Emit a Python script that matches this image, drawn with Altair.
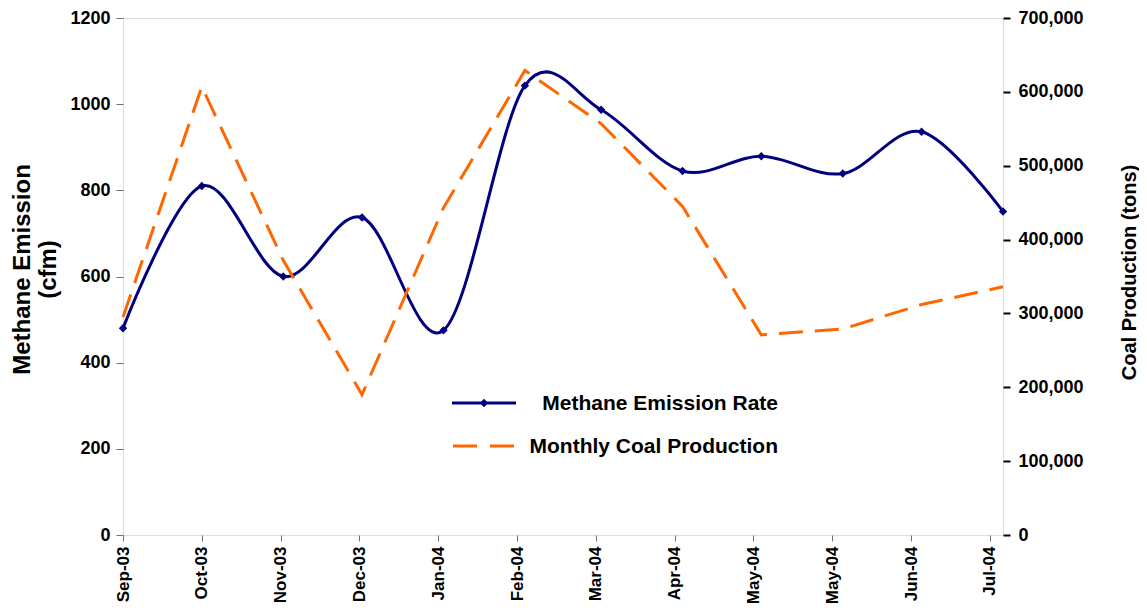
import altair as alt
import pandas as pd

# ---- data ----
months = ["2003-09-01", "2003-10-01", "2003-11-01", "2003-12-01", "2004-01-01", "2004-02-01",
          "2004-03-01", "2004-04-01", "2004-05-01", "2004-06-01", "2004-07-01", "2004-08-01"]
methane = [480, 810, 600, 737, 475, 1043, 987, 845, 879, 839, 936, 751]
coal = [295000, 607000, 372000, 190000, 443000, 629000, 557000, 445000, 271000, 279000, 312000, 336000]
tick_labels = ["Sep-03", "Oct-03", "Nov-03", "Dec-03", "Jan-04", "Feb-04",
               "Mar-04", "Apr-04", "May-04", "May-04", "Jun-04", "Jul-04"]
legend_labels = ["Methane Emission Rate", "Monthly Coal Production"]

start = pd.Timestamp(months[0])
days = [(pd.Timestamp(m) - start).days for m in months]
df = pd.DataFrame({"day": days, "methane": methane, "coal": coal})

FONT = "Liberation Sans"
NAVY = "#000080"
ORANGE = "#FF6600"
H = 517

label_js = "[" + ",".join("'" + t + "'" for t in tick_labels) + "]"
x_enc = alt.X(
    "day:Q",
    scale=alt.Scale(domain=[0, days[-1]], nice=False, zero=False),
    axis=alt.Axis(
        values=[30 * i for i in range(len(tick_labels))],
        labelExpr=label_js + "[round(datum.value/30)]",
        labelAngle=270,
        labelFontSize=17,
        labelFontWeight="bold",
        labelFont=FONT,
        labelColor="black",
        labelPadding=5,
        tickSize=6,
        tickColor="#707070",
        tickWidth=1,
        domain=False,
        grid=False,
        title=None,
    ),
)

base = alt.Chart(df)

methane_line = base.mark_line(
    color=NAVY, strokeWidth=3, interpolate="cardinal", tension=0
).encode(
    x=x_enc,
    y=alt.Y(
        "methane:Q",
        scale=alt.Scale(domain=[0, 1200], nice=False),
        axis=alt.Axis(
            orient="left",
            values=[0, 200, 400, 600, 800, 1000, 1200],
            format="d",
            labelFontSize=18,
            labelFontWeight="bold",
            labelFont=FONT,
            labelColor="black",
            labelPadding=6,
            tickSize=7,
            tickColor="#707070",
            domain=False,
            grid=False,
            title=["Methane Emission", "(cfm)"],
            titleFont=FONT,
            titleFontSize=24,
            titleFontWeight="bold",
            titleColor="black",
            titleAngle=270,
            titleBaseline="middle",
            titleAlign="center",
            titleLineHeight=26,
            titleX=-101,
            titleY=251,
        ),
    ),
)

methane_pts = base.mark_point(
    shape="diamond", filled=True, color=NAVY, size=70, opacity=1
).encode(x="day:Q", y="methane:Q")

coal_line = base.mark_line(
    color=ORANGE, strokeWidth=3, strokeDash=[24, 12]
).encode(
    x="day:Q",
    y=alt.Y(
        "coal:Q",
        scale=alt.Scale(domain=[0, 700000], nice=False),
        axis=alt.Axis(
            orient="right",
            values=[0, 100000, 200000, 300000, 400000, 500000, 600000, 700000],
            format=",d",
            labelFontSize=18,
            labelFontWeight="bold",
            labelFont=FONT,
            labelColor="black",
            labelPadding=8,
            tickSize=7,
            tickColor="black",
            tickWidth=2,
            domain=False,
            grid=False,
            title="Coal Production (tons)",
            titleFont=FONT,
            titleFontSize=20,
            titleFontWeight="bold",
            titleColor="black",
            titleAngle=270,
            titleBaseline="middle",
            titleAlign="center",
            titleX=126,
            titleY=254,
        ),
    ),
)

# ---- manual legend ----
leg_df = pd.DataFrame({"label": legend_labels})
leg_rule1 = alt.Chart(leg_df.iloc[[0]]).mark_rule(color=NAVY, strokeWidth=3).encode(
    x=alt.value(329), x2=alt.value(393), y=alt.value(385)
)
leg_pt1 = alt.Chart(leg_df.iloc[[0]]).mark_point(
    shape="diamond", filled=True, color=NAVY, size=70, opacity=1
).encode(x=alt.value(361), y=alt.value(385))
leg_rule2 = alt.Chart(leg_df.iloc[[1]]).mark_rule(
    color=ORANGE, strokeWidth=3, strokeDash=[24, 13]
).encode(x=alt.value(330), x2=alt.value(391), y=alt.value(428))
leg_text1 = alt.Chart(leg_df.iloc[[0]]).mark_text(
    align="right", baseline="middle", font=FONT, fontSize=21, fontWeight="bold", color="black"
).encode(x=alt.value(655), y=alt.value(386), text="label:N")
leg_text2 = alt.Chart(leg_df.iloc[[1]]).mark_text(
    align="right", baseline="middle", font=FONT, fontSize=21, fontWeight="bold", color="black"
).encode(x=alt.value(655), y=alt.value(429), text="label:N")

left_layer = alt.layer(methane_line, methane_pts)
chart = (
    alt.layer(left_layer, coal_line, leg_rule1, leg_pt1, leg_rule2, leg_text1, leg_text2)
    .resolve_scale(y="independent")
    .properties(
        width=880,
        height=H,
        autosize="none",
        padding={"left": 115, "top": 10, "right": 136, "bottom": 73},
    )
    .configure_view(stroke="black", strokeWidth=3)
    .configure(background="white")
)

chart.save("out.html", embed_options={"renderer": "svg", "actions": False})
